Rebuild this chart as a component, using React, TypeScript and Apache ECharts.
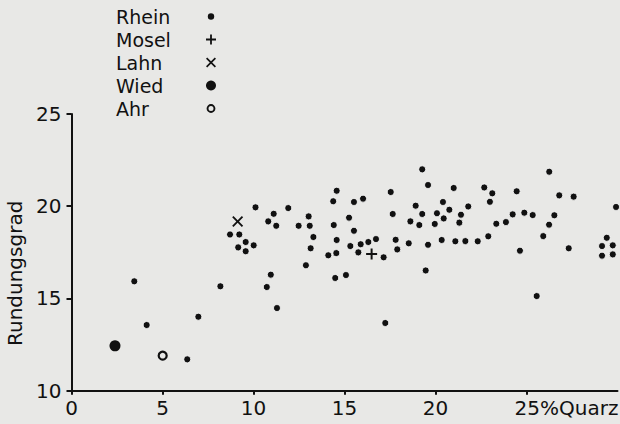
import React, { useEffect, useRef } from "react";
import * as echarts from "echarts";

// % Quarz (x), Rundungsgrad (y)
const rheinPoints: [number, number][] = [
  [3.45, 15.93], [4.13, 13.56], [6.36, 11.7], [6.97, 14.01], [8.18, 15.66],
  [8.71, 18.47], [9.22, 18.47], [9.57, 18.06], [10.01, 17.88], [9.16, 17.77],
  [9.57, 17.56], [10.11, 19.94], [11.11, 19.59], [10.81, 19.18], [11.25, 18.94],
  [11.91, 19.9], [10.95, 16.29], [10.73, 15.62], [11.29, 14.48], [13.03, 19.45],
  [12.48, 18.94], [13.09, 18.94], [13.29, 18.33], [13.14, 17.72], [12.88, 16.8],
  [14.57, 20.84], [14.38, 20.27], [14.41, 18.98], [14.57, 18.17], [14.55, 17.46],
  [14.11, 17.34], [14.49, 16.11], [15.08, 16.27], [15.25, 19.38], [15.52, 20.23],
  [16.02, 20.41], [15.52, 18.67], [15.32, 17.84], [15.89, 17.94], [15.76, 17.5],
  [16.31, 18.06], [16.73, 18.22], [17.15, 17.23], [17.24, 13.67], [17.54, 20.77],
  [17.65, 19.58], [17.81, 18.18], [17.9, 17.66], [18.53, 17.99], [18.91, 20.03],
  [19.27, 19.58], [18.62, 19.18], [19.11, 18.98], [19.59, 17.91], [19.46, 16.52],
  [19.27, 22.0], [19.59, 21.15], [21.0, 20.99], [22.68, 21.02], [23.12, 20.7],
  [22.99, 20.24], [20.41, 20.23], [20.76, 19.81], [21.8, 19.99], [20.08, 19.62],
  [21.4, 19.54], [20.45, 19.34], [19.96, 19.04], [21.31, 19.11], [20.34, 18.17],
  [21.09, 18.1], [21.64, 18.11], [22.32, 18.1], [22.9, 18.37], [23.34, 19.05],
  [23.87, 19.14], [24.24, 19.56], [24.88, 19.65], [25.34, 19.52], [24.46, 20.81],
  [26.25, 21.87], [26.53, 19.51], [26.24, 19.0], [25.92, 18.38], [26.8, 20.59],
  [27.59, 20.52], [24.64, 17.59], [27.32, 17.72], [25.56, 15.13], [29.92, 19.96],
  [29.41, 18.29], [29.15, 17.84], [29.74, 17.88], [29.15, 17.32], [29.74, 17.39],
];
const moselPoints: [number, number][] = [[16.49, 17.41]];
const lahnPoints: [number, number][] = [[9.13, 19.17]];
const wiedPoints: [number, number][] = [[2.39, 12.43]];
const ahrPoints: [number, number][] = [[5.01, 11.9]];

const seriesNames = ["Rhein", "Mosel", "Lahn", "Wied", "Ahr"];
const xTicks = [0, 5, 10, 15, 20, 25];
const yTicks = [10, 15, 20, 25];
const xUnit = "%Quarz";
const yName = "Rundungsgrad";

const FONT = '"DejaVu Sans", sans-serif';
const INK = "#111111";
const BG = "#e8e8e6";

const PLUS = "path://M4.1 0H5.9V4.1H10V5.9H5.9V10H4.1V5.9H0V4.1H4.1Z";
const CROSS =
  "path://M0 1.2L1.2 0L5 3.8L8.8 0L10 1.2L6.2 5L10 8.8L8.8 10L5 6.2L1.2 10L0 8.8L3.8 5Z";
const SMALL_DOT = "path://M0 0M10 10M1.8 5A3.2 3.2 0 1 1 8.2 5A3.2 3.2 0 1 1 1.8 5Z";
const RING =
  "path://M0 0M10 10M5 0.6A4.4 4.4 0 1 1 5 9.4A4.4 4.4 0 1 1 5 0.6ZM5 2.5A2.5 2.5 0 1 0 5 7.5A2.5 2.5 0 1 0 5 2.5Z";

export default function App() {
  const ref = useRef<HTMLDivElement>(null);
  useEffect(() => {
    if (!ref.current) return;
    const chart = echarts.init(ref.current, undefined, { renderer: "svg" });
    chart.setOption({
      animation: false,
      backgroundColor: BG,
      textStyle: { fontFamily: FONT, color: INK },
      grid: {
        left: 71.5,
        right: 2.5,
        top: 114,
        bottom: 33.3,
        containLabel: false,
        outerBoundsMode: "none",
      },
      legend: {
        orient: "vertical",
        left: 111,
        top: 2,
        align: "right",
        itemGap: 4,
        itemWidth: 10,
        itemHeight: 10,
        selectedMode: false,
        formatter: (name: string) => `{n|${name}}`,
        textStyle: {
          rich: {
            n: { width: 85, align: "left", fontSize: 19, fontFamily: FONT, color: INK },
          },
        },
        data: [
          { name: seriesNames[0], icon: SMALL_DOT, itemStyle: { color: INK, borderWidth: 0 } },
          { name: seriesNames[1], icon: PLUS, itemStyle: { color: INK, borderWidth: 0 } },
          { name: seriesNames[2], icon: CROSS, itemStyle: { color: INK, borderWidth: 0 } },
          { name: seriesNames[3], icon: "circle", itemStyle: { color: INK, borderWidth: 0 } },
          { name: seriesNames[4], icon: RING, itemStyle: { color: INK, borderWidth: 0 } },
        ],
      },
      xAxis: {
        type: "value",
        min: 0,
        max: 30,
        interval: 5,
        splitLine: { show: false },
        axisLine: { lineStyle: { color: INK, width: 2 } },
        axisTick: {
          show: true,
          inside: false,
          length: 4,
          lineStyle: { color: INK, width: 2 },
          customValues: xTicks,
        },
        axisLabel: {
          customValues: xTicks,
          margin: 7,
          fontSize: 20,
          fontFamily: FONT,
          color: INK,
          formatter: (v: number) => (v === 25 ? `{q|${v}${xUnit}}` : String(v)),
          rich: {
            q: { padding: [0, 0, 0, 80], fontSize: 20, fontFamily: FONT, color: INK },
          },
        },
      },
      yAxis: {
        type: "value",
        min: 10,
        max: 25,
        interval: 5,
        name: yName,
        nameLocation: "middle",
        nameRotate: 90,
        nameGap: 46,
        nameTextStyle: { fontSize: 20, fontFamily: FONT, color: INK, padding: [0, 42, 0, 0] },
        splitLine: { show: false },
        axisLine: { show: true, lineStyle: { color: INK, width: 2 } },
        axisTick: {
          show: true,
          inside: false,
          length: 5,
          lineStyle: { color: INK, width: 2 },
          customValues: yTicks,
        },
        axisLabel: {
          customValues: yTicks,
          margin: 10,
          fontSize: 20,
          fontFamily: FONT,
          color: INK,
        },
      },
      series: [
        {
          name: seriesNames[0],
          type: "scatter",
          data: rheinPoints,
          symbol: "circle",
          symbolSize: 7,
          itemStyle: { color: INK, borderColor: "rgba(252,252,252,0.8)", borderWidth: 1, opacity: 1 },
        },
        {
          name: seriesNames[1],
          type: "scatter",
          data: moselPoints,
          symbol: PLUS,
          symbolSize: 11,
          itemStyle: { color: INK, opacity: 1 },
        },
        {
          name: seriesNames[2],
          type: "scatter",
          data: lahnPoints,
          symbol: CROSS,
          symbolSize: 11,
          itemStyle: { color: INK, opacity: 1 },
        },
        {
          name: seriesNames[3],
          type: "scatter",
          data: wiedPoints,
          symbol: "circle",
          symbolSize: 11,
          itemStyle: { color: INK, opacity: 1 },
        },
        {
          name: seriesNames[4],
          type: "scatter",
          data: ahrPoints,
          symbol: "circle",
          symbolSize: 8,
          itemStyle: { color: "rgba(0,0,0,0)", borderColor: INK, borderWidth: 2.2, opacity: 1 },
        },
      ],
    });
    return () => chart.dispose();
  }, []);
  return (
    <div
      ref={ref}
      style={{ position: "fixed", left: 0, top: 0, width: 620, height: 424 }}
    />
  );
}
